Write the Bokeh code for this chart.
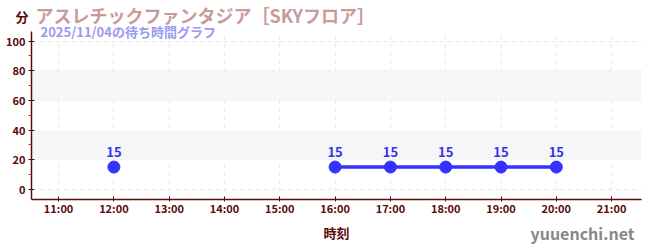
from bokeh.plotting import figure
from bokeh.models import (BoxAnnotation, FixedTicker, Range1d, ColumnDataSource, LabelSet, Title)
from bokeh.core.properties import value
from bokeh.embed import file_html
from bokeh.resources import INLINE

hours = [12, 16, 17, 18, 19, 20]
waits = [15, 15, 15, 15, 15, 15]
x_ticks = [11, 12, 13, 14, 15, 16, 17, 18, 19, 20, 21]
x_tick_labels = ["11:00", "12:00", "13:00", "14:00", "15:00", "16:00", "17:00", "18:00", "19:00", "20:00", "21:00"]
y_ticks = [0, 20, 40, 60, 80, 100]
y_minor_ticks = [10, 30, 50, 70, 90]
title_text = "アスレチックファンタジア［SKYフロア］"
subtitle_text = "2025/11/04の待ち時間グラフ"
y_unit = "分"
x_label = "時刻"
site = "yuuenchi.net"

FONT = "Noto Sans CJK JP"
AX = "#5b0a0a"
BLUE = "#3333ff"

p = figure(width=650, height=250, output_backend="svg", toolbar_location=None,
           x_range=Range1d(10.51, 21.54), y_range=Range1d(-6.9, 106.5),
           min_border_left=31, min_border_right=9, min_border_top=0, min_border_bottom=0)
p.outline_line_color = None
p.background_fill_color = "white"
p.title = None

for lo, hi in [(20, 40), (60, 80)]:
    p.add_layout(BoxAnnotation(bottom=lo, top=hi, fill_color="#f6f6f6", fill_alpha=1,
                               line_color=None, level="underlay"))

p.xaxis.ticker = FixedTicker(ticks=x_ticks)
p.xaxis.major_label_overrides = {t: l for t, l in zip(x_ticks, x_tick_labels)}
p.yaxis.ticker = FixedTicker(ticks=y_ticks, minor_ticks=y_minor_ticks)
for ax in (p.xaxis, p.yaxis):
    ax.axis_line_color = AX
    ax.axis_line_width = 1.5
    ax.major_tick_line_color = AX
    ax.major_label_text_font = FONT
    ax.major_label_text_font_style = "bold"
    ax.major_label_text_color = AX
    ax.major_label_text_font_size = "11px"
p.xaxis.major_tick_in = 3
p.xaxis.major_tick_out = 2
p.xaxis.major_label_standoff = -2
p.xaxis.minor_tick_line_color = None
p.yaxis.major_tick_in = 3
p.yaxis.major_tick_out = 3
p.yaxis.major_label_standoff = 3
p.yaxis.minor_tick_line_color = "#dd2222"
p.yaxis.minor_tick_in = 0
p.yaxis.minor_tick_out = 3

p.xgrid.ticker = FixedTicker(ticks=x_ticks)
p.xgrid.grid_line_color = "#e8e8e8"
p.xgrid.grid_line_dash = "4 4"
p.ygrid.grid_line_color = "#e8e8e8"
p.ygrid.grid_line_dash = "4 4"

# connect only consecutive hourly readings
segs = []
cur = [0]
for i in range(1, len(hours)):
    if hours[i] - hours[i - 1] == 1:
        cur.append(i)
    else:
        segs.append(cur)
        cur = [i]
segs.append(cur)
for s in segs:
    if len(s) > 1:
        p.line([hours[i] for i in s], [waits[i] for i in s], line_color=BLUE, line_width=3.5)

src = ColumnDataSource(dict(x=hours, y=waits, t=[str(v) for v in waits]))
p.scatter("x", "y", source=src, size=12, fill_color=BLUE, line_color=BLUE)
p.add_layout(LabelSet(x="x", y="y", text="t", source=src, y_offset=10, text_align="center",
                      text_baseline="alphabetic",
                      text_font=value(FONT), text_font_style="bold", text_font_size="13px",
                      text_color="#3333ee"))


def T(text, size, color, standoff, align="left", offset=0):
    return Title(text=text, align=align, offset=offset, standoff=standoff, vertical_align="middle",
                 text_font=FONT, text_font_style="bold", text_font_size=size, text_color=color)

# above: rows stacked outward from the frame
p.add_layout(T(subtitle_text, "13px", "#9a9af0", -20, offset=9), "above")
p.add_layout(T(" ", "13px", "white", -7), "above")
p.add_layout(T(y_unit, "13px", AX, -20, offset=-16), "above")
p.add_layout(T(title_text, "18px", "#c99a9a", -27, offset=4), "above")
p.add_layout(T(" ", "13px", "white", -7), "above")

# below
p.add_layout(T(" ", "13px", "white", -8), "below")
p.add_layout(T(x_label, "13px", AX, -20, align="center"), "below")
p.add_layout(T(site, "16px", "#888888", -25, align="right", offset=7), "below")
p.add_layout(T(" ", "13px", "white", -4), "below")

open("out.html", "w").write(file_html(p, INLINE))
